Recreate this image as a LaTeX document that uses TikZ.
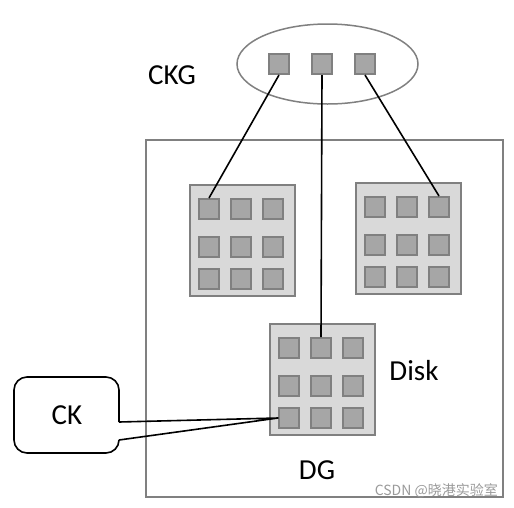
\documentclass[tikz,border=0pt]{standalone}
\usepackage{fontspec}
\setmainfont{Carlito}
\newfontfamily\cjk{Noto Sans CJK SC}
\definecolor{chunkedge}{HTML}{808080}
\definecolor{chunkfill}{HTML}{A6A6A6}
\definecolor{diskfill}{HTML}{D9D9D9}
\definecolor{markgray}{HTML}{9A9A9A}
\tikzset{
  chunk/.style={draw=chunkedge,fill=chunkfill,line width=2pt,minimum size=20pt,inner sep=0pt},
  disk/.style={draw=chunkedge,fill=diskfill,line width=2pt,minimum width=105pt,minimum height=111pt,inner sep=0pt,anchor=north west},
  label/.style={font=\fontsize{29}{34}\selectfont,inner sep=0pt},
  link/.style={line width=1.6pt,black}
}
\begin{document}
\begin{tikzpicture}[x=1pt,y=-1pt]
\useasboundingbox (0,0) rectangle (514,507);

% Disk group outline
\draw[draw=chunkedge,line width=1.5pt] (146,140) rectangle (503,497);
\node[label] (dg) at (317,470) {DG};

% Chunk key group
\draw[draw=chunkedge,line width=1.5pt] (327.5,64) ellipse [x radius=90.5,y radius=40];
\node[chunk] (ck1) at (279,64) {};
\node[chunk] (ck2) at (322,64) {};
\node[chunk] (ck3) at (365,64) {};
\node[label] (ckg) at (172,75) {CKG};

% Disks
\foreach \g/\gx/\gy in {A/189/184,B/355/182,C/269/323}{
  \node[disk] (\g) at (\gx,\gy) {};
  \foreach \r/\dy in {1/25,2/63,3/95}{
    \foreach \c in {1,2,3}{
      \node[chunk] (\g-\r-\c) at (\gx+20+32*\c-32,\gy+\dy) {};
    }
  }
}
\node[label] (disk) at (414,371) {Disk};

% Chunk key links
\draw[link] (ck1.south) -- (A-1-1.north);
\draw[link] (ck2.south) -- (C-1-2.north);
\draw[link] (ck3.south) -- (B-1-3.north);

% CK callout
\coordinate (ckTop) at (119,422);
\coordinate (ckBot) at (119,440);
\draw[line width=1.6pt,rounded corners=13pt] (ckTop) -- (119,377) -- (14,377) -- (14,453) -- (119,453) -- (ckBot);
\draw[link,line join=round] (ckTop) -- (C-3-1.west) -- (ckBot);
\node[label] (ck) at (67,415) {CK};

% Watermark
\node[font=\cjk\fontsize{14}{16}\selectfont,text=markgray,anchor=east,inner sep=0pt] (mark) at (498,491) {CSDN @晓港实验室};
\end{tikzpicture}
\end{document}
